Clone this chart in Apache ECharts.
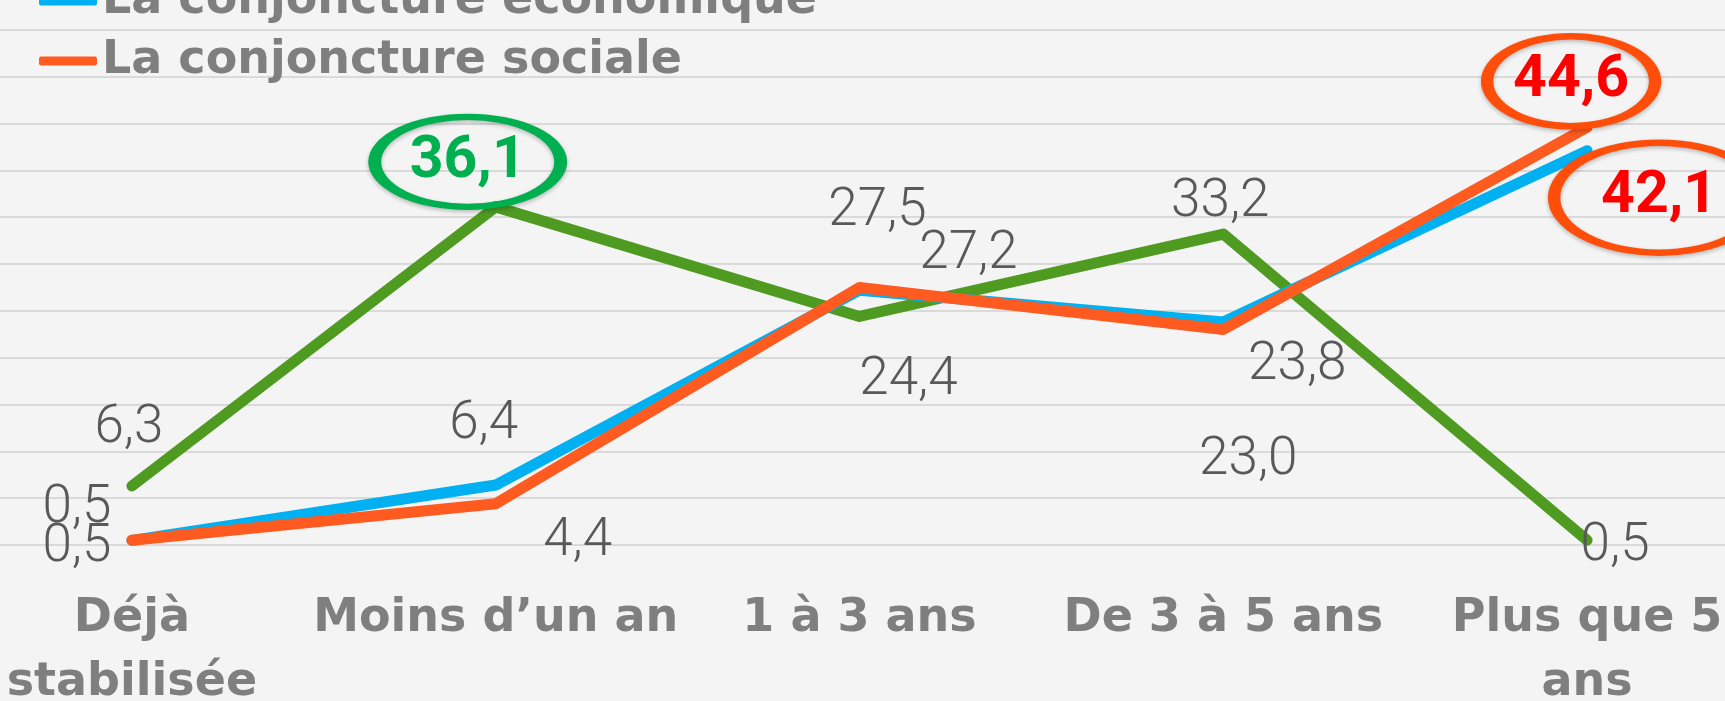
<!DOCTYPE html>
<html>
<head>
<meta charset="utf-8">
<script src="https://cdn.jsdelivr.net/npm/echarts@6/dist/echarts.min.js"></script>
<style>
  html, body { margin: 0; padding: 0; background: #f4f4f4; }
  #main { width: 1725px; height: 701px; }
</style>
</head>
<body>
<div id="main"></div>
<script>
var categories = ['Déjà\nstabilisée', 'Moins d’un an', '1 à 3 ans', 'De 3 à 5 ans', 'Plus que 5\nans']
var seriesNames = ['La conjoncture politique', 'La conjoncture économique', 'La conjoncture sociale']
var politique = [6.3, 36.1, 24.4, 33.2, 0.5]
var economique = [0.5, 6.4, 27.2, 23.8, 42.1]
var sociale = [0.5, 4.4, 27.5, 23.0, 44.6]

// where each value label sits, relative to its point
var politiqueOffsets = [[-3, -57], [-28, -45], [49, 64], [-3, -31], [28, 6]]
var economiqueOffsets = [[-55, -32], [-12, -60], [109, -35], [74, 44], [72, 47]]
var socialeOffsets = [[-55, 7], [82, 38], [18, -76], [25, 131], [-16, -46]]

// circled values (index of the point in each series)
var callouts = {
  0: { index: 1, text: '#00b050', ring: '#00b050', size: [186, 90] },
  1: { index: 4, text: '#ff0000', ring: '#ff4e0a', size: [210, 110] },
  2: { index: 4, text: '#ff0000', ring: '#ff4e0a', size: [168, 90] }
}

var colors = ['#4f9a20', '#00b0f0', '#ff5a1f']

function fmt (v) {
  return v.toFixed(1).replace('.', ',')
}

function buildData (values, offsets, s) {
  return values.map(function (v, i) {
    var item = { value: v, label: { offset: offsets[i] } }
    var c = callouts[s]
    if (c && c.index === i) {
      item.label = { show: false }
    }
    return item
  })
}

function buildCallout (values, offsets, s) {
  var c = callouts[s]
  if (!c) return undefined
  var i = c.index
  return {
    silent: true,
    symbol: 'circle',
    symbolSize: c.size,
    symbolOffset: offsets[i],
    itemStyle: {
      color: 'rgba(0,0,0,0)',
      borderColor: c.ring,
      borderWidth: 9,
      shadowColor: 'rgba(0,0,0,0.25)',
      shadowBlur: 4,
      shadowOffsetY: 2
    },
    label: {
      show: true,
      position: 'inside',
      color: c.text,
      fontFamily: 'Roboto',
      fontWeight: 'bold',
      fontSize: 59,
      formatter: function (p) { return fmt(p.value) }
    },
    data: [{ coord: [i, values[i]], value: values[i] }]
  }
}

var allValues = [politique, economique, sociale]
var allOffsets = [politiqueOffsets, economiqueOffsets, socialeOffsets]

var chart = echarts.init(document.getElementById('main'))

var series = allValues.map(function (values, s) {
  return {
    name: seriesNames[s],
    type: 'line',
    symbol: 'circle',
    symbolSize: 1,
    showSymbol: true,
    z: 2 + s,
    itemStyle: { color: colors[s] },
    lineStyle: { width: 11, color: colors[s], cap: 'round', join: 'round' },
    emphasis: { disabled: true },
    label: {
      show: true,
      position: 'inside',
      fontFamily: 'Roboto',
      fontWeight: 300,
      fontSize: 53,
      color: '#595959',
      formatter: function (p) { return fmt(p.value) }
    },
    markPoint: buildCallout(values, allOffsets[s], s),
    data: buildData(values, allOffsets[s], s)
  }
})

var option = {
  backgroundColor: '#f4f4f4',
  animation: false,
  legend: {
    orient: 'vertical',
    left: 34,
    top: -94,
    itemGap: 0,
    itemWidth: 58,
    itemHeight: 9,
    icon: 'roundRect',
    data: seriesNames,
    textStyle: {
      fontFamily: 'DejaVu Sans',
      fontWeight: 'bold',
      fontSize: 46,
      lineHeight: 60,
      color: '#7f7f7f'
    }
  },
  grid: { left: -50, right: -44, top: -17, bottom: 156, outerBoundsMode: 'none', containLabel: false },
  xAxis: {
    type: 'category',
    data: categories,
    axisLine: { show: false },
    axisTick: { show: false },
    axisLabel: {
      interval: 0,
      margin: 42,
      fontFamily: 'DejaVu Sans',
      fontWeight: 'bold',
      fontSize: 46,
      lineHeight: 64,
      color: '#7f7f7f'
    }
  },
  yAxis: {
    type: 'value',
    min: 0,
    max: 60,
    interval: 5,
    axisLabel: { show: false },
    axisLine: { show: false },
    axisTick: { show: false },
    splitLine: { lineStyle: { color: '#dadada', width: 2 } }
  },
  series: series
}

chart.setOption(option)
</script>
</body>
</html>
